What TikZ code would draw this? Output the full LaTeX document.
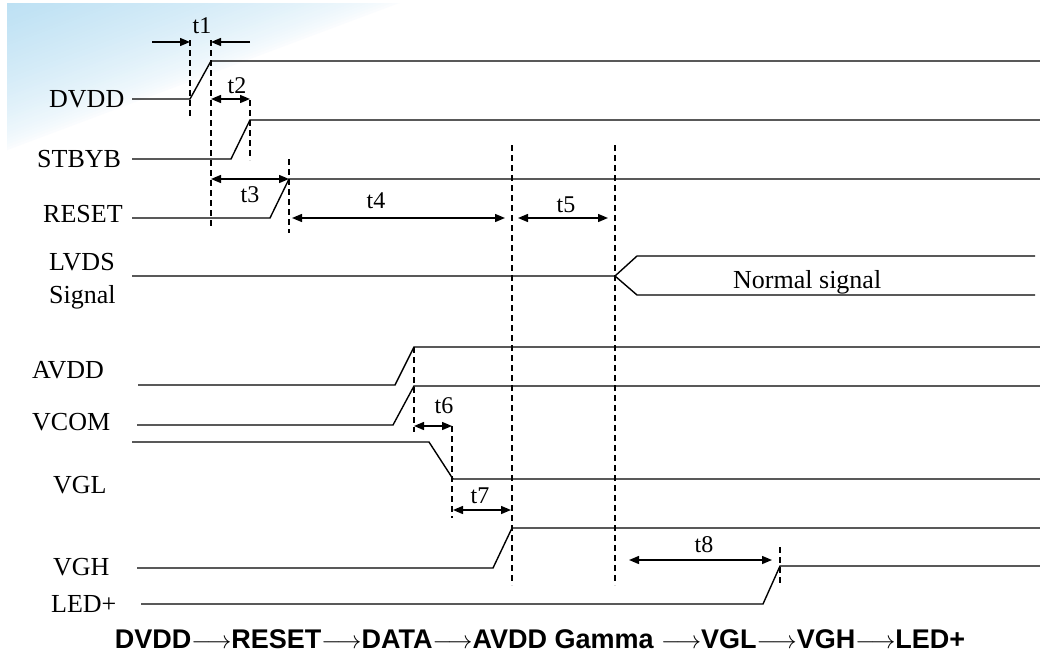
\documentclass[tikz,border=0pt]{standalone}
\usepackage{fontspec}
\setmainfont{Liberation Serif}
\newfontfamily\bsans{Liberation Sans}
\usetikzlibrary{arrows.meta}
\definecolor{bgblue}{RGB}{188,224,243}
\newcommand\myarr{\scalebox{1.0}[1]{$\longrightarrow$}}
\begin{document}
\begin{tikzpicture}[x=1pt,y=-1pt,
  wave/.style={line width=1.4pt},
  guide/.style={line width=1.2pt, dash pattern=on 6pt off 4pt},
  dim/.style={line width=1.4pt, {Triangle[length=10pt,width=8pt]}-{Triangle[length=10pt,width=8pt]}},
  dimr/.style={line width=1.4pt, -{Triangle[length=10pt,width=8pt]}},
  lab/.style={anchor=base west, inner sep=0pt, font=\fontsize{26}{30}\selectfont},
  tlab/.style={anchor=base, inner sep=0pt, font=\fontsize{24}{28}\selectfont}]
\useasboundingbox (0,0) rectangle (1040,653);
\fill[white] (0,0) rectangle (1040,653);
% corner background gradient
\foreach \k in {50,...,1} {
  \pgfmathsetmacro\u{\k/50}
  \pgfmathsetmacro\pc{100*(1-\u)^0.65}
  \fill[bgblue!\pc!white] (7,3) -- ({7+400*\u},3) -- (7,{3+150*\u}) -- cycle;
}

% labels
\node[lab] (lDVDD) at (49,107) {DVDD};
\node[lab] (lSTBYB) at (37,167) {STBYB};
\node[lab] (lRESET) at (43,222) {RESET};
\node[lab] (lLVDS) at (49,270) {LVDS};
\node[lab] (lSignal) at (49,303) {Signal};
\node[lab] (lAVDD) at (32,378) {AVDD};
\node[lab] (lVCOM) at (32,430) {VCOM};
\node[lab] (lVGL) at (53,493) {VGL};
\node[lab] (lVGH) at (53,575) {VGH};
\node[lab] (lLED) at (51,612) {LED+};
\node[lab] (lNormal) at (733,288) {Normal signal};

\node[tlab] (t1) at (202,33) {t1};
\node[tlab] (t2) at (237,93) {t2};
\node[tlab] (t3) at (250,202) {t3};
\node[tlab] (t4) at (376,208) {t4};
\node[tlab] (t5) at (566,212) {t5};
\node[tlab] (t6) at (444,413) {t6};
\node[tlab] (t7) at (480,503) {t7};
\node[tlab] (t8) at (704,552) {t8};

\node[anchor=base, inner sep=0pt, font=\bsans\bfseries\fontsize{27}{30}\selectfont] (seq) at (540,648)
  {DVDD\myarr RESET\myarr DATA\myarr AVDD Gamma \myarr VGL\myarr VGH\myarr LED+};

% waveform coordinates
\coordinate (d1) at (132,99);  \coordinate (d2) at (190,99);  \coordinate (d3) at (211,61);  \coordinate (d4) at (1040,61);
\coordinate (s1) at (132,159); \coordinate (s2) at (231,159); \coordinate (s3) at (250,120); \coordinate (s4) at (1040,120);
\coordinate (r1) at (132,218); \coordinate (r2) at (270,218); \coordinate (r3) at (289,179); \coordinate (r4) at (1040,179);
\coordinate (l1) at (132,276); \coordinate (l2) at (615,276); \coordinate (l3) at (637,256); \coordinate (l4) at (1035,256);
\coordinate (l5) at (637,295); \coordinate (l6) at (1035,295);
\coordinate (a1) at (138,385); \coordinate (a2) at (395,385); \coordinate (a3) at (414,347); \coordinate (a4) at (1040,347);
\coordinate (c1) at (137,425); \coordinate (c2) at (393,425); \coordinate (c3) at (414,386); \coordinate (c4) at (1040,386);
\coordinate (g1) at (132,442); \coordinate (g2) at (429,442); \coordinate (g3) at (453,479); \coordinate (g4) at (1040,479);
\coordinate (h1) at (137,568); \coordinate (h2) at (493,568); \coordinate (h3) at (512,528); \coordinate (h4) at (1040,528);
\coordinate (e1) at (141,604); \coordinate (e2) at (763,604); \coordinate (e3) at (780,566); \coordinate (e4) at (1040,566);

\draw[wave] (d1) -- (d2) -- (d3) -- (d4);
\draw[wave] (s1) -- (s2) -- (s3) -- (s4);
\draw[wave] (r1) -- (r2) -- (r3) -- (r4);
\draw[wave] (l1) -- (l2) -- (l3) -- (l4);
\draw[wave] (l2) -- (l5) -- (l6);
\draw[wave] (a1) -- (a2) -- (a3) -- (a4);
\draw[wave] (c1) -- (c2) -- (c3) -- (c4);
\draw[wave] (g1) -- (g2) -- (g3) -- (g4);
\draw[wave] (h1) -- (h2) -- (h3) -- (h4);
\draw[wave] (e1) -- (e2) -- (e3) -- (e4);

% guide lines
\coordinate (v1a) at (190,40);  \coordinate (v1b) at (190,117);
\coordinate (v2a) at (211,40);  \coordinate (v2b) at (211,228);
\coordinate (v3a) at (250,100); \coordinate (v3b) at (250,160);
\coordinate (v4a) at (289,159); \coordinate (v4b) at (289,233);
\coordinate (v5a) at (512,145); \coordinate (v5b) at (512,585);
\coordinate (v6a) at (615,145); \coordinate (v6b) at (615,585);
\coordinate (v7a) at (414,347); \coordinate (v7b) at (414,432);
\coordinate (v8a) at (452,426); \coordinate (v8b) at (452,518);
\coordinate (v9a) at (780,547); \coordinate (v9b) at (780,585);
\foreach \v in {1,...,9} \draw[guide] (v\v a) -- (v\v b);

% dimension arrows
\coordinate (p1a) at (152,42); \coordinate (p1b) at (190,42);
\coordinate (p1c) at (250,42); \coordinate (p1d) at (211,42);
\draw[dimr] (p1a) -- (p1b);
\draw[dimr] (p1c) -- (p1d);
\coordinate (p2a) at (211,99);  \coordinate (p2b) at (250,99);
\coordinate (p3a) at (211,179); \coordinate (p3b) at (289,179);
\coordinate (p4a) at (292,218); \coordinate (p4b) at (505,218);
\coordinate (p5a) at (518,218); \coordinate (p5b) at (608,218);
\coordinate (p6a) at (414,426); \coordinate (p6b) at (452,426);
\coordinate (p7a) at (453,510); \coordinate (p7b) at (511,510);
\coordinate (p8a) at (629,560); \coordinate (p8b) at (772,560);
\foreach \p in {2,...,8} \draw[dim] (p\p a) -- (p\p b);
\end{tikzpicture}
\end{document}
